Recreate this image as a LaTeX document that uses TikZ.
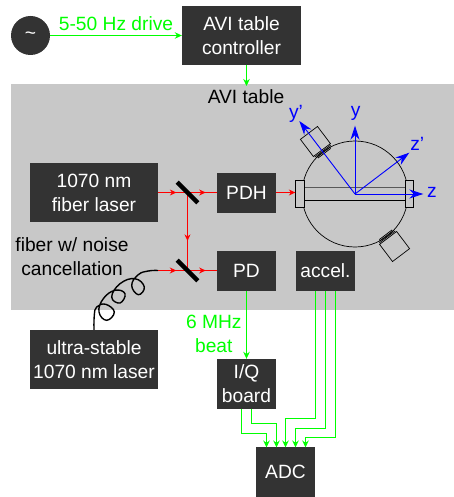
\documentclass[tikz,border=0pt]{standalone}
\usepackage{fontspec}
\setmainfont{Liberation Sans}
\usetikzlibrary{arrows.meta,decorations.markings}
\definecolor{boxgray}{HTML}{333333}
\definecolor{tablegray}{HTML}{C8C8C8}
\definecolor{beamgreen}{HTML}{00FF00}
\newcommand{\labelfont}{\fontsize{19.2}{24}\selectfont}
\tikzset{
  darkbox/.style={fill=boxgray, text=white, align=center, inner sep=0pt, font=\labelfont},
  textlabel/.style={align=center, inner sep=0pt, font=\labelfont},
  axislabel/.style={inner sep=0pt, text=blue, font=\labelfont},
  greenline/.style={draw=beamgreen, line width=1pt, -{Stealth[length=7pt,width=6.5pt]}},
  routeline/.style={greenline, line width=1.4pt},
  redline/.style={draw=red, line width=1pt},
  redmid/.style={redline, postaction={decorate}, decoration={markings,
    mark=at position 0.62 with {\arrow{Stealth[length=6.5pt,width=6pt]}}}},
  axisline/.style={draw=blue, line width=0.9pt, -{Stealth[length=14pt,width=9pt]}},
  opticpart/.style={draw=black, line width=0.7pt}
}
\begin{document}
\begin{tikzpicture}[x=1pt, y=-1pt]
\useasboundingbox (0,0) rectangle (454,497);
\fill[tablegray] (11,84) rectangle (454,310);

\node[darkbox, circle, minimum size=39pt] (drive) at (30.5,35.5) {\textasciitilde};
\node[darkbox, minimum width=119pt, minimum height=59pt] (controller) at (241.5,35.5) {AVI table\\controller};
\node[darkbox, minimum width=128pt, minimum height=59pt] (fiberlaser) at (94,192.5) {1070 nm\\fiber laser};
\node[darkbox, minimum width=59pt, minimum height=40pt] (pdh) at (246.5,193) {PDH};
\node[darkbox, minimum width=59pt, minimum height=40pt] (pd) at (246.5,271) {PD};
\node[darkbox, minimum width=59pt, minimum height=40pt] (accel) at (325.5,271) {accel.};
\node[darkbox, minimum width=128pt, minimum height=59pt] (stablelaser) at (94,359.5) {ultra-stable\\1070 nm laser};
\node[darkbox, minimum width=59pt, minimum height=50pt] (iq) at (246.5,384) {I/Q\\board};
\node[darkbox, minimum width=59pt, minimum height=50pt] (adc) at (285.5,472) {ADC};

\node[textlabel, text=beamgreen] (drivelabel) at (116,24) {5-50 Hz drive};
\node[textlabel] (tablelabel) at (246,97) {AVI table};
\node[textlabel] (fiberlabel) at (72,257) {fiber w/ noise\\cancellation};
\node[textlabel, text=beamgreen] (beatlabel) at (213.8,334) {6 MHz\\beat};

% green signal lines
\coordinate (tabletop) at (246.5,86);
\draw[greenline] (drive.east) -- (controller.west);
\draw[greenline] (tabletop |- controller.south) -- (tabletop);
\draw[greenline] (pd.south) -- (iq.north);
\draw[routeline] ([xshift=-5pt]iq.south) |- (266.5,433.5) -- (266.5,447.5);
\draw[routeline] ([xshift=5pt]iq.south) |- (276.5,423.5) -- (276.5,447.5);
\draw[routeline] ([xshift=-10pt]accel.south) |- (285.5,418.5) -- (285.5,447.5);
\draw[routeline] (accel.south) |- (295.5,428.5) -- (295.5,447.5);
\draw[routeline] ([xshift=10pt]accel.south) |- (305.5,437.5) -- (305.5,447.5);

% cavity
\node[opticpart, circle, minimum size=106pt, inner sep=0pt] (cavity) at (355,194) {};
\draw[black!65, line width=1.1pt] (304,187.7) -- (405,187.7);
\draw[black, line width=0.7pt] (304,200.3) -- (405,200.3);
\node[opticpart, fill=tablegray, minimum width=8.6pt, minimum height=26.6pt, inner sep=0pt] (cavleft) at (300,194) {};
\node[opticpart, fill=tablegray, minimum width=8.6pt, minimum height=26.6pt, inner sep=0pt] (cavright) at (409.5,194) {};
\foreach \ang in {37,217} {
  \begin{scope}[shift={(cavity.center)}, rotate=\ang]
    \draw[opticpart, fill=tablegray] (-10.7,-55) rectangle (10.7,-76.5);
    \foreach \rr/\hw in {53.7/10, 52.3/9, 51/8}
      \draw[opticpart] (-\hw,-\rr) -- (\hw,-\rr);
  \end{scope}
}

% beams and mirrors
\coordinate (mirrorone) at (187.5,192.5);
\coordinate (mirrortwo) at (187.5,270.5);
\coordinate (fiberend) at (158,270.5);
\draw[redmid] (fiberlaser.east) -- (mirrorone);
\draw[redmid] (mirrorone) -- (mirrorone -| pdh.west);
\draw[redmid] (mirrorone) -- (mirrortwo);
\draw[redmid] (fiberend) -- (mirrortwo);
\draw[redmid] (mirrortwo) -- (mirrortwo -| pd.west);
\draw[redline, -{Stealth[length=6.5pt,width=6pt]}] (mirrorone -| pdh.east) -- (mirrorone -| cavleft.west);
\foreach \mname in {mirrorone,mirrortwo}
  \node[fill=black, rotate=-45, minimum width=29pt, minimum height=4.5pt, inner sep=0pt] at (\mname) {};

% fiber coil
\draw[black, line width=1.4pt] plot[smooth, tension=0.75] coordinates {(stablelaser.north) (94.3,315.3) (96.7,307) (105.7,304.3) (114.3,312) (106.7,320.3) (99,312) (103.3,298.7) (115,290.3) (125,293.7) (120,303) (111.7,297) (120,283.7) (135,278.7) (144.3,287) (138.3,294.7) (131.7,285.3) (138.3,274.7) (148.3,271) (fiberend)};

% axes
\coordinate (yptip) at (299.3,121);
\coordinate (ytip) at (355,125.7);
\coordinate (zptip) at (409.3,152.7);
\coordinate (ztip) at (423.3,194);
\foreach \tipname in {yptip,ytip,zptip,ztip}
  \draw[axisline] (cavity.center) -- (\tipname);
\node[axislabel] (yplabel) at (296,114) {y'};
\node[axislabel] (ylabel) at (355.7,113) {y};
\node[axislabel] (zplabel) at (417.3,144) {z'};
\node[axislabel] (zlabel) at (432,192) {z};
\end{tikzpicture}
\end{document}
